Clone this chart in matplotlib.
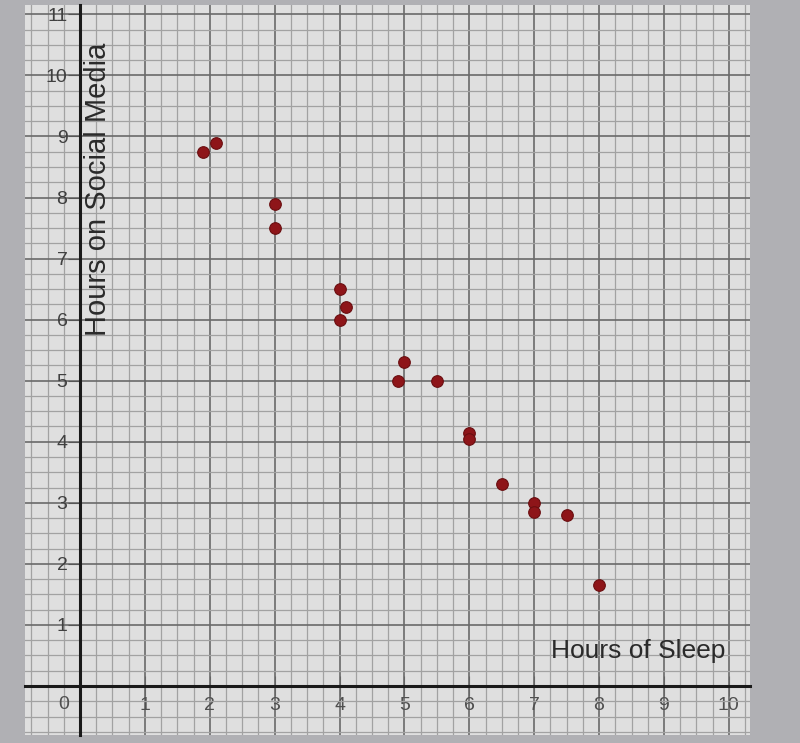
import numpy as np
import matplotlib.pyplot as plt
from matplotlib.ticker import MultipleLocator

plt.rcParams['font.family'] = ['Liberation Sans', 'DejaVu Sans']

# hours of sleep vs hours on social media
sleep = [1.9, 2.1, 3.0, 3.0, 4.0, 4.1, 4.0, 5.0, 4.9, 5.5, 6.0, 6.0, 6.5, 7.0, 7.0, 7.5, 8.0]
social = [8.75, 8.9, 7.9, 7.5, 6.5, 6.2, 6.0, 5.3, 5.0, 5.0, 4.15, 4.05, 3.3, 3.0, 2.85, 2.8, 1.65]
x_ticks = [1, 2, 3, 4, 5, 6, 7, 8, 9, 10]
y_ticks = [1, 2, 3, 4, 5, 6, 7, 8, 9, 10, 11]

fig = plt.figure(figsize=(8, 7.43), dpi=100)
fig.patch.set_facecolor('#b0b0b4')
ax = fig.add_axes([0.031, 0.011, 0.906, 0.982])
ax.set_facecolor('#dfdfdf')

ax.set_xlim(-0.85, 10.32)
ax.set_ylim(-0.8, 11.15)

# graph paper
ax.xaxis.set_minor_locator(MultipleLocator(0.25))
ax.yaxis.set_minor_locator(MultipleLocator(0.25))
ax.xaxis.set_major_locator(MultipleLocator(1))
ax.yaxis.set_major_locator(MultipleLocator(1))
ax.grid(which='minor', color='#a2a2a2', linewidth=0.9)
ax.grid(which='major', color='#6a6a6a', linewidth=1.2)
ax.set_axisbelow(True)

# axes through origin
for s in ['top', 'right']:
    ax.spines[s].set_visible(False)
ax.spines['left'].set_position(('data', 0))
ax.spines['bottom'].set_position(('data', 0))
ax.spines['left'].set_linewidth(2.2)
ax.spines['bottom'].set_linewidth(2.2)
ax.spines['left'].set_color('#1a1a1a')
ax.spines['bottom'].set_color('#1a1a1a')

ax.set_xticks(x_ticks)
ax.set_yticks(y_ticks)
ax.set_xticklabels([str(v) for v in x_ticks], fontsize=14, color='#505050')
ax.set_yticklabels([str(v) for v in y_ticks], fontsize=14, color='#404040')
ax.tick_params(axis='x', which='major', direction='inout', length=14, pad=1, color='#666666')
ax.tick_params(axis='y', which='major', direction='out', length=9, pad=0, color='#555555')
ax.tick_params(which='minor', length=0)
ax.text(-0.25, -0.3, '0', fontsize=14, color='#505050', ha='center', va='center')

ax.scatter(sleep, social, s=70, color='#8e1519', edgecolor='#6a0e10', linewidth=0.8, zorder=5)

ax.text(0.28, 8.13, 'Hours on Social Media', rotation=90, fontsize=21, color='#2a2a2a',
        ha='center', va='center')
ax.text(9.95, 0.57, 'Hours of Sleep', fontsize=19, color='#2a2a2a', ha='right', va='center')

plt.savefig('out.png', dpi=100)
